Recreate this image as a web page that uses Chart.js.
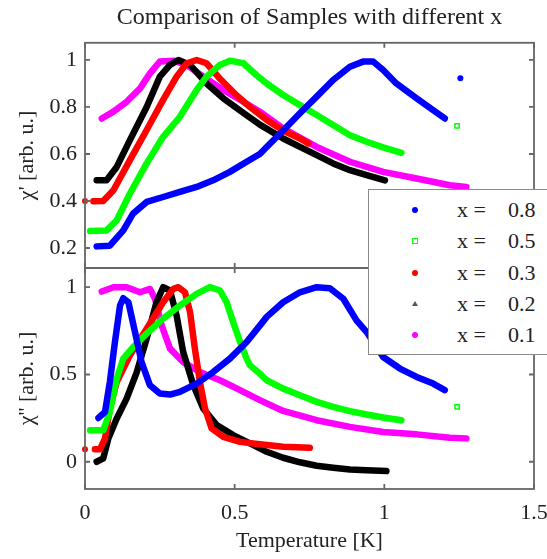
<!DOCTYPE html>
<html>
<head>
<meta charset="utf-8">
<script src="https://cdn.jsdelivr.net/npm/chart.js@4.4.1/dist/chart.umd.min.js"></script>
<style>
  body { margin: 0; background: #fff; }
  #wrap { position: relative; width: 547px; height: 559px; overflow: hidden; }
  #wrap canvas { position: absolute; left: 0; top: 0; }
  #legend {
    position: absolute; left: 368px; top: 189px; width: 190px; height: 164px;
    background: #fff; border: 1.5px solid #8a8a8a;
    font-family: 'Liberation Serif', serif; font-size: 22px; color: #222;
  }
  #legend .row { position: absolute; left: 0; height: 24px; line-height: 24px; width: 100%; }
  #legend .mk { position: absolute; left: 43px; top: 9px; width: 6px; height: 6px; }
  #legend .lx { position: absolute; left: 88px; }
  #legend .lv { position: absolute; left: 139px; }
</style>
</head>
<body>
<div id="wrap">
  <canvas id="chiRe" width="547" height="559"></canvas>
  <canvas id="chiIm" width="547" height="559"></canvas>
  <div id="legend"></div>
</div>
<script>
// samples, in legend order
const samples = ['0.8', '0.5', '0.3', '0.2', '0.1'];
const colors = ['#0000ff', '#00ff00', '#ff0000', '#000000', '#ff00ff'];

const xTicks = [0, 0.5, 1, 1.5];
const xTickLabels = ['0', '0.5', '1', '1.5'];
const reTicks = [0.2, 0.4, 0.6, 0.8, 1];
const reTickLabels = ['0.2', '0.4', '0.6', '0.8', '1'];
const imTicks = [0, 0.5, 1];
const imTickLabels = ['0', '0.5', '1'];

// chi' (top panel)
const tRe08 = [0.039, 0.083, 0.128, 0.161, 0.206, 0.261, 0.317, 0.373, 0.428, 0.484, 0.540, 0.584, 0.607, 0.662, 0.718, 0.774, 0.829, 0.885, 0.929, 0.963, 0.996, 1.040, 1.108, 1.163, 1.202];
const re08 = [0.207, 0.210, 0.275, 0.347, 0.396, 0.417, 0.439, 0.460, 0.488, 0.524, 0.567, 0.600, 0.630, 0.700, 0.773, 0.844, 0.915, 0.971, 0.993, 0.993, 0.957, 0.900, 0.837, 0.787, 0.751];
const tRe05 = [0.017, 0.072, 0.106, 0.150, 0.206, 0.261, 0.317, 0.373, 0.406, 0.451, 0.484, 0.529, 0.573, 0.607, 0.662, 0.718, 0.774, 0.829, 0.885, 0.941, 0.996, 1.057];
const re05 = [0.272, 0.275, 0.318, 0.432, 0.560, 0.673, 0.758, 0.872, 0.929, 0.979, 0.997, 0.986, 0.935, 0.900, 0.851, 0.808, 0.766, 0.723, 0.680, 0.652, 0.628, 0.605];
const tRe03 = [0.028, 0.061, 0.095, 0.150, 0.206, 0.261, 0.306, 0.340, 0.373, 0.406, 0.451, 0.506, 0.551, 0.607, 0.662, 0.718, 0.746];
const re03 = [0.399, 0.400, 0.446, 0.574, 0.702, 0.830, 0.929, 0.986, 1.000, 0.986, 0.920, 0.850, 0.800, 0.745, 0.700, 0.666, 0.645];
const tRe02 = [0.039, 0.072, 0.106, 0.150, 0.206, 0.250, 0.284, 0.312, 0.351, 0.406, 0.462, 0.529, 0.584, 0.662, 0.718, 0.774, 0.829, 0.885, 0.941, 1.002];
const re02 = [0.488, 0.488, 0.545, 0.659, 0.800, 0.929, 0.979, 1.000, 0.979, 0.900, 0.837, 0.775, 0.725, 0.666, 0.630, 0.595, 0.560, 0.531, 0.510, 0.488];
const tRe01 = [0.056, 0.095, 0.139, 0.184, 0.217, 0.250, 0.295, 0.340, 0.395, 0.462, 0.529, 0.584, 0.662, 0.774, 0.885, 0.996, 1.108, 1.219, 1.274];
const re01 = [0.751, 0.780, 0.822, 0.879, 0.943, 0.993, 0.997, 0.979, 0.929, 0.872, 0.822, 0.780, 0.709, 0.630, 0.567, 0.524, 0.496, 0.467, 0.460];

// chi'' (bottom panel)
const tIm08 = [0.045, 0.067, 0.083, 0.100, 0.117, 0.128, 0.145, 0.167, 0.189, 0.217, 0.250, 0.284, 0.317, 0.373, 0.428, 0.484, 0.540, 0.584, 0.607, 0.662, 0.718, 0.774, 0.818, 0.863, 0.907, 0.941, 0.996, 1.052, 1.108, 1.163, 1.202];
const im08 = [0.251, 0.286, 0.457, 0.686, 0.895, 0.937, 0.914, 0.743, 0.571, 0.438, 0.391, 0.385, 0.400, 0.448, 0.514, 0.591, 0.686, 0.780, 0.830, 0.914, 0.971, 1.000, 0.994, 0.934, 0.810, 0.743, 0.600, 0.534, 0.486, 0.448, 0.410];
const tIm05 = [0.017, 0.061, 0.083, 0.106, 0.128, 0.161, 0.206, 0.261, 0.317, 0.373, 0.417, 0.451, 0.473, 0.495, 0.518, 0.540, 0.551, 0.584, 0.607, 0.662, 0.718, 0.774, 0.829, 0.885, 0.941, 0.996, 1.057];
const im05 = [0.181, 0.180, 0.286, 0.476, 0.591, 0.657, 0.734, 0.820, 0.895, 0.962, 1.000, 0.981, 0.914, 0.800, 0.686, 0.591, 0.553, 0.505, 0.467, 0.419, 0.381, 0.343, 0.314, 0.290, 0.271, 0.254, 0.238];
const tIm03 = [0.033, 0.050, 0.067, 0.083, 0.106, 0.150, 0.206, 0.261, 0.295, 0.312, 0.334, 0.351, 0.367, 0.384, 0.401, 0.423, 0.462, 0.518, 0.584, 0.662, 0.751];
const im03 = [0.071, 0.071, 0.134, 0.305, 0.457, 0.610, 0.762, 0.914, 0.991, 1.000, 0.971, 0.857, 0.648, 0.457, 0.305, 0.191, 0.143, 0.114, 0.100, 0.086, 0.080];
const tIm02 = [0.039, 0.061, 0.078, 0.106, 0.139, 0.173, 0.206, 0.239, 0.261, 0.284, 0.306, 0.328, 0.362, 0.395, 0.440, 0.495, 0.551, 0.607, 0.662, 0.718, 0.774, 0.829, 0.885, 0.941, 1.007];
const im02 = [0.000, 0.019, 0.134, 0.248, 0.362, 0.514, 0.705, 0.914, 1.000, 0.981, 0.838, 0.629, 0.438, 0.305, 0.210, 0.153, 0.105, 0.057, 0.023, -0.003, -0.023, -0.034, -0.044, -0.049, -0.053];
const tIm01 = [0.056, 0.095, 0.139, 0.184, 0.217, 0.234, 0.256, 0.284, 0.328, 0.384, 0.451, 0.518, 0.584, 0.662, 0.774, 0.885, 0.996, 1.108, 1.219, 1.274];
const im01 = [0.975, 1.000, 1.000, 0.971, 0.990, 0.934, 0.781, 0.648, 0.571, 0.514, 0.467, 0.410, 0.353, 0.291, 0.238, 0.200, 0.171, 0.157, 0.137, 0.134];

// lone points away from the curves
const strayReT = [1.254, 1.243, 0.0];
const strayRe = [0.922, 0.720, 0.400];
const strayReSample = [0, 1, 2];
const strayImT = [1.243, 0.0];
const strayIm = [0.314, 0.071];
const strayImSample = [1, 2];

const serif = 'Liberation Serif';
const inkColor = '#222';

function curve(t, v, color) {
    return {
        data: t.map((x, i) => ({ x: x, y: v[i] })),
        showLine: true,
        borderColor: color,
        borderWidth: 6.5,
        borderJoinStyle: 'round',
        borderCapStyle: 'round',
        pointRadius: 0,
        tension: 0
    };
}

function strays(t, v, which) {
    return which.map((s, i) => ({
        data: [{ x: t[i], y: v[i] }],
        showLine: false,
        clip: false,
        pointStyle: s === 1 ? 'rect' : 'circle',
        pointRadius: 3,
        pointBorderWidth: s === 1 ? 1.5 : 0,
        pointBorderColor: colors[s],
        pointBackgroundColor: s === 1 ? '#fff' : colors[s]
    }));
}

// box with inward ticks on all four sides, like the original
const framePlugin = {
    id: 'frame',
    afterDatasetsDraw(chart, args, opts) {
        const { ctx, chartArea: a, scales } = chart;
        const len = 5;
        ctx.save();
        ctx.strokeStyle = '#666';
        ctx.lineWidth = 1.8;
        ctx.strokeRect(a.left, a.top, a.right - a.left, a.bottom - a.top);
        ctx.beginPath();
        opts.xTicks.forEach(v => {
            const px = scales.x.getPixelForValue(v);
            ctx.moveTo(px, a.top); ctx.lineTo(px, a.top + len);
            ctx.moveTo(px, a.bottom); ctx.lineTo(px, a.bottom - len);
        });
        opts.yTicks.forEach(v => {
            const py = scales.y.getPixelForValue(v);
            ctx.moveTo(a.left, py); ctx.lineTo(a.left + len, py);
            ctx.moveTo(a.right, py); ctx.lineTo(a.right - len, py);
        });
        ctx.stroke();
        ctx.restore();
    }
};

// the scales' own label padding would pull the plot edges in
function noLabelPadding(s) {
    s.paddingLeft = 0; s.paddingRight = 0;
    s.paddingTop = 0; s.paddingBottom = 0;
}

function yScale(min, max, ticks, labels, title) {
    return {
        min: min,
        max: max,
        afterBuildTicks: s => { s.ticks = ticks.map(v => ({ value: v })); },
        afterFit: s => { s.width = 85; noLabelPadding(s); },
        ticks: {
            callback: (v) => labels[ticks.indexOf(v)],
            font: { family: serif, size: 22 },
            color: inkColor,
            padding: 8
        },
        grid: { display: false, drawTicks: false },
        border: { display: false },
        title: {
            display: true,
            text: title,
            font: { family: serif, size: 22 },
            color: inkColor,
            padding: { top: 14, bottom: 0 }
        }
    };
}

const reSets = [
    curve(tRe08, re08, colors[0]),
    curve(tRe05, re05, colors[1]),
    curve(tRe03, re03, colors[2]),
    curve(tRe02, re02, colors[3]),
    curve(tRe01, re01, colors[4])
].concat(strays(strayReT, strayRe, strayReSample));

const imSets = [
    curve(tIm08, im08, colors[0]),
    curve(tIm05, im05, colors[1]),
    curve(tIm03, im03, colors[2]),
    curve(tIm02, im02, colors[3]),
    curve(tIm01, im01, colors[4])
].concat(strays(strayImT, strayIm, strayImSample));

new Chart(document.getElementById('chiRe'), {
    type: 'scatter',
    data: { datasets: reSets },
    plugins: [framePlugin],
    options: {
        responsive: false,
        animation: false,
        devicePixelRatio: 1,
        layout: { autoPadding: false, padding: { left: 0, right: 13, top: 0, bottom: 291 } },
        scales: {
            x: {
                type: 'linear', min: 0, max: 1.5,
                ticks: { display: false },
                grid: { display: false, drawTicks: false },
                border: { display: false },
                afterFit: s => { s.height = 0; noLabelPadding(s); }
            },
            y: yScale(0.115, 1.073, reTicks, reTickLabels, "\u03c7' [arb. u.]")
        },
        plugins: {
            legend: { display: false },
            tooltip: { enabled: false },
            title: {
                display: true,
                fullSize: false,
                text: 'Comparison of Samples with different x',
                font: { family: serif, size: 24, weight: 'normal' },
                color: inkColor,
                padding: { top: 3, bottom: 11 }
            },
            frame: { xTicks: xTicks, yTicks: reTicks }
        }
    }
});

new Chart(document.getElementById('chiIm'), {
    type: 'scatter',
    data: { datasets: imSets },
    plugins: [framePlugin],
    options: {
        responsive: false,
        animation: false,
        devicePixelRatio: 1,
        layout: { autoPadding: false, padding: { left: 0, right: 13, top: 268, bottom: 0 } },
        scales: {
            x: {
                type: 'linear', min: 0, max: 1.5,
                afterBuildTicks: s => { s.ticks = xTicks.map(v => ({ value: v })); },
                afterFit: s => { s.height = 70; noLabelPadding(s); },
                ticks: {
                    callback: (v) => xTickLabels[xTicks.indexOf(v)],
                    font: { family: serif, size: 22 },
                    color: inkColor,
                    padding: 11,
                    maxRotation: 0
                },
                grid: { display: false, drawTicks: false },
                border: { display: false },
                title: {
                    display: true,
                    text: 'Temperature [K]',
                    font: { family: serif, size: 22 },
                    color: inkColor,
                    padding: { top: 0, bottom: 5 }
                }
            },
            y: yScale(-0.156, 1.11, imTicks, imTickLabels, "\u03c7'' [arb. u.]")
        },
        plugins: {
            legend: { display: false },
            tooltip: { enabled: false },
            frame: { xTicks: xTicks, yTicks: imTicks }
        }
    }
});

// legend box sits across both panels
const legend = document.getElementById('legend');
const rowTops = [8, 39, 71, 102, 133];
samples.forEach((s, i) => {
    const row = document.createElement('div');
    row.className = 'row';
    row.style.top = rowTops[i] + 'px';
    const mk = document.createElement('span');
    mk.className = 'mk';
    if (i === 1) {
        mk.style.border = '1.5px solid ' + colors[i];
        mk.style.width = '4px'; mk.style.height = '4px';
    } else if (i === 3) {
        mk.style.width = '0'; mk.style.height = '0';
        mk.style.borderLeft = '3px solid transparent';
        mk.style.borderRight = '3px solid transparent';
        mk.style.borderBottom = '5px solid #555';
    } else {
        mk.style.background = colors[i];
        mk.style.borderRadius = '50%';
    }
    const lx = document.createElement('span');
    lx.className = 'lx';
    lx.textContent = 'x =';
    const lv = document.createElement('span');
    lv.className = 'lv';
    lv.textContent = s;
    row.append(mk, lx, lv);
    legend.appendChild(row);
});
</script>
</body>
</html>
